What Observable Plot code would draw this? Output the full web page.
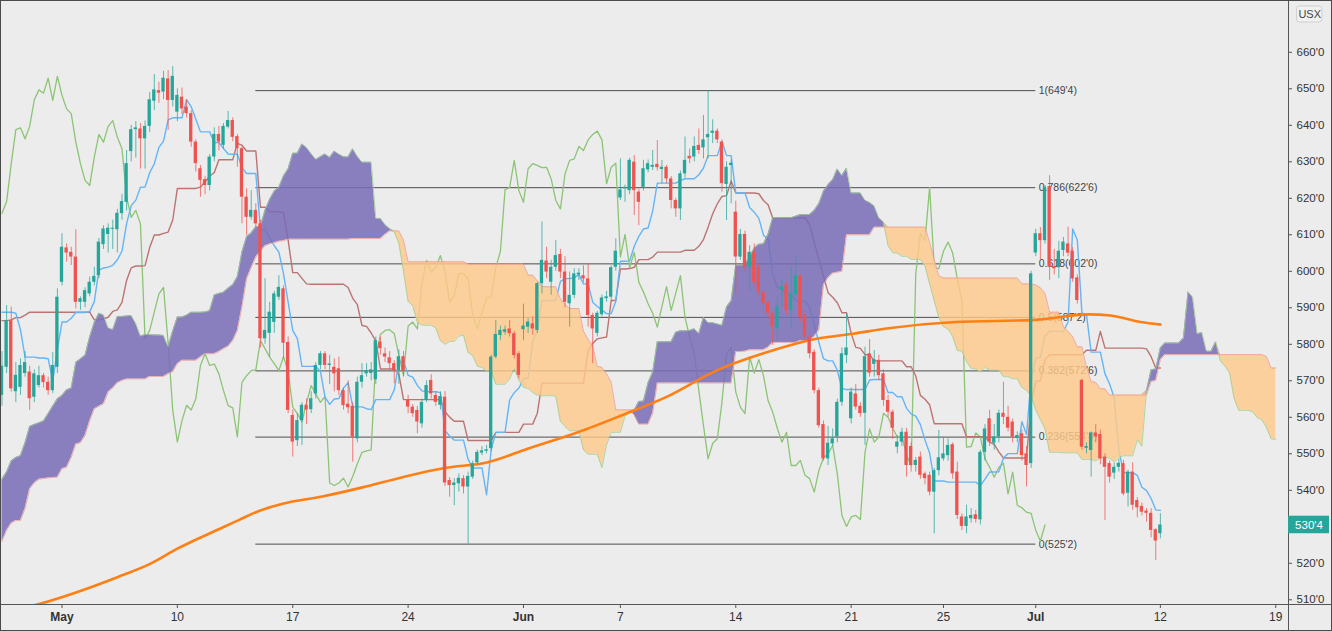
<!DOCTYPE html>
<html><head><meta charset="utf-8">
<script src="https://cdn.jsdelivr.net/npm/d3@7"></script>
<script src="https://cdn.jsdelivr.net/npm/@observablehq/plot@0.6"></script>
<style>
html,body{margin:0;padding:0;background:#ececec;}
#wrap{position:relative;width:1332px;height:631px;overflow:hidden;}
#frame{position:absolute;left:0;top:0;width:1332px;height:631px;box-sizing:border-box;border:1px solid #4a4a4a;pointer-events:none;}
svg{display:block;}
</style></head><body><div id="wrap"><div id="frame"></div></div>
<script>
// ---------- data (4-hour bars, index 0..251) ----------
const opens = [
566,573.7,586.5,567,568.2,572,572.4,565.5,568.7,571.4,
569.6,567.3,573.7,597,606.4,605.2,603.9,591.5,591.5,593.8,
597,598.8,607.3,610.1,611.5,611.4,615.8,618.9,632.8,638.8,
639,636.3,639.7,646.6,649.5,649.1,652.7,646.8,643.6,647.7,
645,643.2,635.4,628.1,625.1,623.5,631.3,637.5,634.5,639.5,
641.3,636.9,633.6,620.3,614.8,616.7,613,581.5,583,586,
592.9,595.2,580.5,560.5,553.6,559.1,563.3,562.1,566.4,574.2,
577.4,574.2,573.7,573.3,567.3,563.6,563,554.1,569.6,571.9,
572,570.3,580.6,577.4,576.3,574.7,572.8,576.6,564.6,562.8,
561.9,558.2,564.6,570.1,566,563.3,565.5,542.7,541.3,541.8,
543.2,540.9,543.6,547.5,550.2,550.7,551.4,576.5,582.4,583.3,
584.2,582.9,577.4,584,584.7,585.6,583.8,596.6,602.8,597,
601.1,604.6,599.8,591.1,593.4,599,598.8,597.9,587.9,583,
588.1,592.5,592.9,601.1,620.1,622.6,622.1,629.9,621.7,623,
627.8,628.5,629.3,627.9,628.5,625.3,619.4,617.1,626.7,631.5,
631.3,634.5,633.8,636.6,637.8,638.4,635.4,623.8,629,616.2,
603.9,610.1,601.1,605.2,601.1,594.3,591.3,588.4,584.2,594.9,
596.1,589.3,593.6,598.6,587.9,582,577.8,567.3,558,548.6,
552.7,554.6,564.1,576.9,559.6,566.4,563,561.1,577.4,574.5,
575.6,571.9,564.6,561.4,551.8,553.2,555.9,552,546.8,549.1,
544.5,544.1,539.5,545.4,548.6,549.5,552.5,545,532.7,530.1,
532.2,533.3,531.9,550.4,559.6,552.9,554.6,561.1,560,558.7,
554.2,555.5,550,547.3,605,610.3,608.4,623.2,601.3,601,
605.7,607.5,605.5,598.2,570.1,551.5,550.9,555.7,555.3,549.1,
547.3,544.7,546.3,547.3,539.2,545,537.2,535.6,534.3,533.7,
529.2,528.1];
const highs = [
578,590.6,590.2,575,576,578,574,573,574,572,
571,577.8,595.2,610.3,607.5,606.6,611.4,593,595.5,598.4,
601.1,609,612.5,613,614,617,621.1,633.1,640,641,
640.5,641.2,649,653.9,651.8,654.8,655,656.1,650,650.2,
647,644,636,629,626,632,639.3,639.7,640.5,643.8,
642,637.5,634,622.6,622.1,618.5,614,598,591.5,594.5,
598.8,596,582,562,561,564,565,567,575,578,
578,577,576,576.5,568,570,564,571,574.7,574.7,
575,582,582,579,578,575.5,578.5,578,566,563.5,
563,565,570,571.7,567,567,567,543.5,543.2,544.5,
544,545,548,551,552,552.3,577,586.5,585,585,
586.5,583.5,578,591,587,587.5,597,613.5,606.6,603,
608.4,606,604,599.8,600.7,600.7,601.5,602.1,588.5,589,
593.5,594.5,601.5,608.9,630.8,623.6,631,631.7,622.5,630.4,
630.5,633.1,635.8,630.4,629,626,620,627.5,636.8,633.5,
636.8,639,642.7,649.5,641.5,639,636,630,630.5,619.2,
611.5,611,607,607.5,602,595,592,589,593,597.7,
597,601.1,604.1,599,589,583,578.5,568,559,557.5,
556.8,565,579,588.4,568,569,564,579.2,581.3,578.3,
577,573,566,562,555,557,557,553,549,550.5,
545,545,546,556.4,554.5,554.1,553,547.7,533.5,535.9,
535,534.5,551,558,561.9,558,562,569.6,563,559.5,
556,556.5,552,600,611.5,612,623.5,626.2,606,608.2,
609.3,612.1,606.5,599,570.5,553,556,558,556.5,550,
548,547.5,548.5,548.2,545.5,547.5,538,536.5,535,535,
529.5,533.6];
const lows = [
563,572,566.9,564,566,571,561.9,564,568,568,
566,566.5,572,596,602.5,601.6,589.7,589.3,590,593,
596,598,606,605,606,605,614,616.5,630,631,
628,628,638,644,646,647,638.6,645,641,643,
642,634,627.2,620.3,621,622,630,633,633.5,639,
635.5,628.5,613,609.8,614,612,579,580,576.5,583,
592,576,561,549.1,552,552.3,558,561,565,573,
573,569,567,566,562,561,547.7,553,568,571,
570,569,577,575,573,569.2,569,571,561,560,
555.5,557,564,565,563,562,541,538.1,535.8,539.5,
539,525.25,543,547,549.5,550,550.5,576,581,582.5,
582,576,570.5,581,583,582.5,583,593.8,598,593.4,
600,598,590,584.7,592.5,597.5,597,584.7,574.7,582,
587.5,591.5,592,600,619.4,618.9,621,615.3,612.5,622,
627,627.6,627.5,624,624,617.1,614.8,613.9,625.5,629.5,
630,632,630.8,630.8,635,635,621.7,613.9,618.5,593.4,
603,600,594.7,596,593,589.3,587,579.7,581,590,
588,584.5,592.5,586,581,576,566.4,557,548,546.8,
552,553,563,574.7,558.2,562,560,552.3,571,571,
570,563,560,554,550,552,543.6,545,545,543,
541.5,538.5,528.1,544,548,548,543,532,529,528.1,
531,531,530.5,548,552,551,553,558,556,553,
553,548,540.9,546,604,603,607.5,597.5,599,598,
604,604,597,591,551,550,543.6,553,547,531.7,
542,543,545,538.5,535.4,534.5,532.5,533,531.3,527,
520.8,526.7];
const closes = [
574,586.5,567.8,571.5,574.2,575,565.1,571.9,571.4,569.5,
567.3,574.2,592.9,606.6,605,603.9,591.5,592.5,594.7,597,
598.6,608,611.6,611.8,611.7,615.9,619.1,629.5,638.8,639.3,
636.3,639.7,647,649.7,648.8,652.9,646.8,653.4,648.2,644.5,
643.2,635.4,629.5,624.9,623.5,631.3,637.5,635.4,639.7,641.3,
636.7,633.6,620.3,614.8,616.7,613,581.5,583.8,588.8,593.8,
595.6,580.3,561.9,553.2,559.1,563.3,562,565.1,574.2,577.4,
574.2,574.6,571.9,567.3,563.2,562.6,554.6,569.6,571.4,572.8,
573,581,578.8,576.5,574.7,572.8,576.6,572.5,562.8,561,
558.7,564.1,568.7,566.4,564.1,565.7,542,541.3,542,543.3,
540.9,543.8,547.3,550.4,550.8,551.1,576.5,582.7,583.8,584,
582.9,576.9,571.5,585,586.1,584.2,596.6,603,599.8,601.1,
604.3,599.8,591.5,593.4,599.3,599.5,597.9,587.9,584.2,588.5,
592.7,593,601,605.5,622.3,623,630.4,622.1,618.9,628.1,
629.5,629,628.4,628.5,625.3,619.4,617.1,626.7,630.4,630.8,
634.2,633.1,636,637.5,638.4,636,624,628.5,629.6,603.9,
610.1,601.1,605.2,597,594.3,591.1,588.5,584.7,590.4,595.8,
589.3,594,598.8,587.4,582,577.4,567.3,557.7,548.6,552.9,
554.1,564.1,577.4,579,566.9,562.8,561,576.6,572.1,575.8,
571.4,564.6,561.4,557,553.2,555.9,546.8,546.8,548.2,544.1,
543.2,539.5,545.4,548.9,550,552.3,544.5,533.1,530.1,532.7,
533.1,532,550.4,556.8,553.2,554.6,561.1,560,557,554.6,
555,549.5,546.8,599.3,610.3,608.4,623,601.1,600.7,605.5,
608,605,597.9,592,551.8,552,555.7,554.6,548.6,546.3,
543.6,546.3,547.4,539,545,535.9,535.2,534,533.7,529,
526.1,530.5];

// indicator values before enough history exists
const tenkanEarly = [588.8,588.8,588.8,588.5,584,576.5,576.5,576.5];
const kijunEarly = [586.5,586.5,586.7,587.3,587.3,588,588.8,588.8,588.8,588.8,588.8,588.8,588.8,588.8,588.8,588.8,588.8,588.8,588.8,588.8,586.7,586.7,587,587.4,589];
const senkouAEarly = [543,545,548,549,549.5,553,557.5,558,558.5,559,561,563,565,566,567.5,568,575,576,577,582,586,588.5,588,584.5,584];
const senkouBEarly = [526,529,531,531.7,531.7,535,540.4,542,543,543.2,543.4,543.5,543.6,545.9,546.3,549,552.7,553,555,559,
562.3,563,563.7,566.9,568,569.5,570.1,570.5,570.5,570.5,570.5,570.5,571.2,571.2,571.2,571.2,571.9,572.5,574.7,575.6,
575.6,575.6,575.6,576.5,577.4,577.4,577.4,578,578.8,579.5,581,583.8,590.2,597.9,601,603.9,605.5,607,607.5,607.8,
608.2,608.4,608.8,608.8,608.8,608.8,608.8,608.8,608.8,608.8,608.8,608.8,608.8,608.8,608.8,608.8];

// moving average (read at vertices)
const maBars = [6,7.6,14.1,25,32.2,38,47.8,51.4,55,60.8,69.4,78.1,86.8,95.9,105.3,113.9,124.8,134.2,144,154.8,165.7,176.5,184.4,192.1,206.5,223.9,235.4,240.2,246.7,251];
const maValues = [508.2,508.7,511.2,516.2,519.9,524,529.8,531.9,534,536.3,538.3,540.8,543.6,546.1,547.7,551.4,555.9,560.5,565.6,572.8,577.8,581.5,582.9,584.4,586.1,586.7,588.2,587.9,586.1,585.4];

// fibonacci retracement
const fibHigh = 649.5, fibLow = 525.25;
const fibRatios = [1, 0.786, 0.618, 0.5, 0.382, 0.236, 0];
const fibLabels = ["1(649'4)","0.786(622'6)","0.618(602'0)","0.5(587'2)","0.382(572'6)","0.236(554'4)","0(525'2)"];
const fibStartBar = 55, fibEndBar = 224;

// axes
const xTickBars = [13,38,63,88,113,134,159,184,204,224,251,276];
const xTickLabels = ["May","10","17","24","Jun","7","14","21","25","Jul","12","19"];
const yTicks = [510,520,530,540,550,560,570,580,590,600,610,620,630,640,650,660];
const lastPrice = 530.5, lastPriceLabel = "530'4";
const symbolLabel = "USX";

// ---------- indicator computation ----------
const N = closes.length, SHIFT = 25;
function hh(i, n){let m=-Infinity;for(let k=i-n+1;k<=i;k++)m=Math.max(m,highs[k]);return m;}
function ll(i, n){let m=Infinity;for(let k=i-n+1;k<=i;k++)m=Math.min(m,lows[k]);return m;}
const tenkan = d3.range(N).map(i => i >= 8 ? (hh(i,9)+ll(i,9))/2 : tenkanEarly[i]);
const kijun = d3.range(N).map(i => i >= 25 ? (hh(i,26)+ll(i,26))/2 : kijunEarly[i]);
const cloud = d3.range(N + SHIFT).map(j => {
  const a = j >= SHIFT ? (tenkan[j-SHIFT] + kijun[j-SHIFT]) / 2 : senkouAEarly[j];
  const b = j - SHIFT >= 51 ? (hh(j-SHIFT,52) + ll(j-SHIFT,52)) / 2 : senkouBEarly[j];
  return {j, a, b};
});
const chikou = d3.range(N - SHIFT).map(i => ({i, v: closes[i + SHIFT]}));
const tenkanData = tenkan.map((v,i)=>({i,v}));
const kijunData = kijun.map((v,i)=>({i,v}));
const maData = maBars.map((b,k)=>({b, v: maValues[k]}));
const fibs = fibRatios.map((r,k)=>({v: fibLow + r*(fibHigh-fibLow), label: fibLabels[k]}));
const candles = closes.map((c,i)=>({i, o: opens[i], h: highs[i], l: lows[i], c}));
const upC = candles.filter(d => d.c >= d.o), dnC = candles.filter(d => d.c < d.o);
const xticks = xTickBars.map((b,k)=>({b, label: xTickLabels[k], bold: isNaN(+xTickLabels[k])}));

// ---------- layout helpers (pixel -> data) ----------
const PX = 4.615, X0 = 1.5;
const xAt = px => (px - X0) / PX;
const yAt = py => 650 - (py - 88.3) / 3.65;

const UP = "#26a69a", DN = "#ef5350";
const bodyW = 0.36;
const bodyMarks = (data, color) => [
  Plot.ruleX(data, {x: "i", y1: "l", y2: "h", stroke: color, strokeWidth: 1, strokeOpacity: 0.75}),
  Plot.rect(data, {x1: d => d.i - bodyW, x2: d => d.i + bodyW,
    y1: d => Math.min(d.o, d.c), y2: d => Math.max(Math.max(d.o, d.c), Math.min(d.o, d.c) + 0.3), fill: color})
];

const chart = Plot.plot({
  width: 1332, height: 631,
  marginLeft: 0, marginRight: 44, marginTop: 0, marginBottom: 27,
  x: {type: "linear", domain: [xAt(0), xAt(1288)], axis: null},
  y: {type: "linear", domain: [yAt(604), yAt(0)], axis: null},
  style: {background: "#ececec", fontFamily: "'Liberation Sans', Arial, sans-serif", fontSize: "12px", overflow: "visible"},
  marks: [
    // fibonacci
    Plot.ruleY(fibs, {y: "v", x1: () => fibStartBar, x2: () => fibEndBar, stroke: "#4d4d4d", strokeWidth: 1}),
    Plot.text(fibs, {x: () => fibEndBar, y: "v", text: "label", textAnchor: "start", dx: 3, fill: "#444", fontSize: 10.5}),
    // lagging, conversion, base lines
    Plot.line(chikou, {x: "i", y: "v", stroke: "#8cc476", strokeWidth: 1.3}),
    Plot.line(kijunData, {x: "i", y: "v", stroke: "#bb7472", strokeWidth: 1.4}),
    Plot.line(tenkanData, {x: "i", y: "v", stroke: "#64b5f6", strokeWidth: 1.4}),
    // cloud
    Plot.areaY(cloud, {x: "j", y1: "b", y2: d => Math.max(d.a, d.b), fill: "#786cb6", fillOpacity: 0.86}),
    Plot.areaY(cloud, {x: "j", y1: "a", y2: d => Math.max(d.a, d.b), fill: "#ffc98a", fillOpacity: 0.82}),
    Plot.line(cloud, {x: "j", y: "a", stroke: "#9fcf8f", strokeWidth: 1, strokeOpacity: 0.8}),
    Plot.line(cloud, {x: "j", y: "b", stroke: "#ee9a9a", strokeWidth: 1, strokeOpacity: 0.8}),
    // moving average
    Plot.line(maData, {x: "b", y: "v", stroke: "#ff7f12", strokeWidth: 2.6, curve: "monotone-x", clip: true}),
    // candles
    ...bodyMarks(upC, UP),
    ...bodyMarks(dnC, DN),
    // axis lines
    Plot.ruleY([yAt(604)], {y: d => d, x1: () => xAt(0), x2: () => xAt(1332), stroke: "#555", strokeWidth: 1}),
    Plot.ruleX([xAt(1288)], {x: d => d, y1: () => yAt(0), y2: () => yAt(631), stroke: "#555", strokeWidth: 1}),
    // x ticks + labels
    Plot.ruleX(xticks, {x: "b", y1: () => yAt(604), y2: () => yAt(608), stroke: "#555"}),
    Plot.text(xticks.filter(d => d.bold), {x: "b", y: () => yAt(617), text: "label", fontWeight: "bold", fill: "#333", fontSize: 12}),
    Plot.text(xticks.filter(d => !d.bold), {x: "b", y: () => yAt(617), text: "label", fill: "#333", fontSize: 12}),
    // y ticks + labels
    Plot.ruleY(yTicks, {y: d => d, x1: () => xAt(1288), x2: () => xAt(1292), stroke: "#555"}),
    Plot.text(yTicks, {y: d => d, x: () => xAt(1296), text: d => `${d}'0`, textAnchor: "start", fill: "#333", fontSize: 11.5}),
    // last price box
    Plot.rect([lastPrice], {x1: () => xAt(1288), x2: () => xAt(1329), y1: d => d - 2.4, y2: d => d + 2.4, fill: UP}),
    Plot.text([lastPrice], {x: () => xAt(1308.5), y: d => d, text: () => lastPriceLabel, fill: "white", fontSize: 11.5}),
    // symbol box
    Plot.rect([symbolLabel], {x1: () => xAt(1296.5), x2: () => xAt(1322), y1: () => yAt(22), y2: () => yAt(6), fill: "#f1f1f1", stroke: "#cfcfcf", rx: 3}),
    Plot.text([symbolLabel], {x: () => xAt(1309.2), y: () => yAt(14), text: d => d, fill: "#444", fontSize: 11})
  ]
});
const wrap = document.getElementById("wrap");
wrap.insertBefore(chart, document.getElementById("frame"));
</script></body></html>
